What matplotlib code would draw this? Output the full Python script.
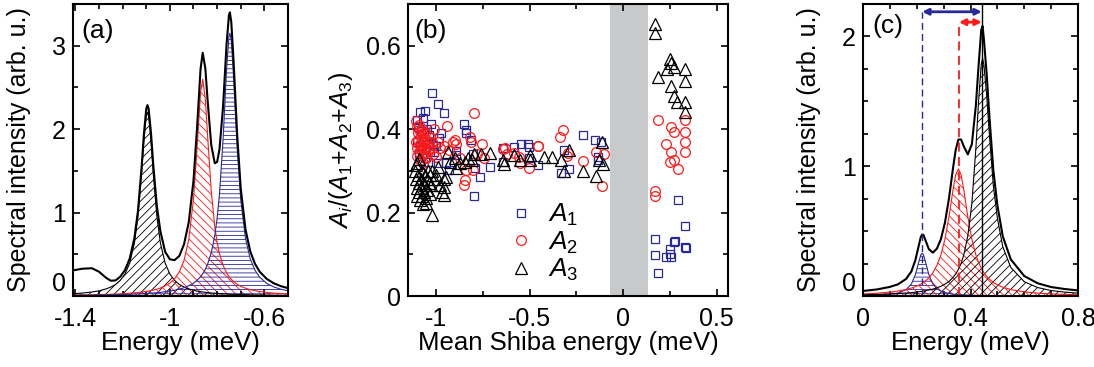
import numpy as np
import matplotlib
matplotlib.use("Agg")
import matplotlib.pyplot as plt
from matplotlib.ticker import MultipleLocator, FuncFormatter

plt.rcParams['font.family'] = ['Liberation Sans', 'DejaVu Sans']
plt.rcParams['mathtext.fontset'] = 'custom'
plt.rcParams['mathtext.rm'] = 'Liberation Sans'
plt.rcParams['mathtext.it'] = 'Liberation Sans:italic'
plt.rcParams['axes.unicode_minus'] = False
plt.rcParams['hatch.linewidth'] = 0.6

BLUE = '#28289a'
RED = '#ff1a1a'

# ---- panel (a): spectrum at negative energies ----
energy_a = [-1.41, -1.37, -1.33, -1.30, -1.27, -1.25, -1.23, -1.21, -1.19, -1.17,
            -1.15, -1.135, -1.12, -1.11, -1.10, -1.095, -1.09, -1.08, -1.07, -1.055,
            -1.04, -1.02, -1.0, -0.98, -0.96, -0.94, -0.92, -0.90, -0.885, -0.87,
            -0.861, -0.85, -0.84, -0.825, -0.81, -0.80, -0.79, -0.775, -0.76, -0.75,
            -0.746, -0.74, -0.73, -0.715, -0.70, -0.68, -0.66, -0.64, -0.62, -0.59,
            -0.56, -0.53, -0.50]
total_a = [0.307, 0.327, 0.333, 0.291, 0.218, 0.183, 0.187, 0.231, 0.311, 0.448,
           0.696, 1.022, 1.530, 1.938, 2.242, 2.288, 2.247, 1.958, 1.563, 1.077,
           0.774, 0.53, 0.44, 0.43, 0.48, 0.62, 0.885, 1.383, 2.015, 2.724,
           2.915, 2.731, 2.335, 1.813, 1.591, 1.607, 1.759, 2.263, 3.019, 3.366,
           3.40, 3.282, 2.798, 1.925, 1.289, 0.80, 0.537, 0.387, 0.292, 0.205,
           0.152, 0.118, 0.094]
black_a = [0.027, 0.035, 0.048, 0.062, 0.085, 0.107, 0.138, 0.187, 0.263, 0.394,
           0.634, 0.955, 1.456, 1.859, 2.156, 2.2, 2.156, 1.859, 1.456, 0.955,
           0.634, 0.394, 0.263, 0.187, 0.138, 0.107, 0.085, 0.069, 0.059, 0.052,
           0.048, 0.044, 0.041, 0.036, 0.033, 0.031, 0.029, 0.026, 0.024, 0.022,
           0.022, 0.021, 0.020, 0.019, 0.017, 0.016, 0.014, 0.013, 0.012, 0.011,
           0.009, 0.008, 0.008]
red_a = [0.011, 0.012, 0.014, 0.016, 0.019, 0.021, 0.023, 0.026, 0.029, 0.033,
         0.038, 0.042, 0.047, 0.050, 0.055, 0.057, 0.059, 0.065, 0.071, 0.082,
         0.096, 0.120, 0.155, 0.207, 0.289, 0.427, 0.677, 1.16, 1.768, 2.44,
         2.6, 2.366, 1.91, 1.26, 0.833, 0.644, 0.508, 0.369, 0.279, 0.235,
         0.221, 0.201, 0.173, 0.141, 0.117, 0.094, 0.076, 0.064, 0.054, 0.043,
         0.035, 0.029, 0.024]
blue_a = [0.009, 0.010, 0.011, 0.013, 0.014, 0.015, 0.016, 0.018, 0.019, 0.021,
          0.024, 0.025, 0.027, 0.029, 0.031, 0.031, 0.032, 0.034, 0.036, 0.040,
          0.044, 0.051, 0.059, 0.069, 0.082, 0.099, 0.123, 0.154, 0.188, 0.232,
          0.267, 0.321, 0.384, 0.517, 0.725, 0.932, 1.222, 1.868, 2.716, 3.109,
          3.15, 3.06, 2.605, 1.765, 1.155, 0.69, 0.447, 0.31, 0.226, 0.151,
          0.108, 0.081, 0.062]

# ---- panel (b): relative weights vs mean Shiba energy ----
a1_x = [-1.022, -0.991, -0.959, -1.058, -1.085, -1.072, -1.103, -1.027, -1.095, -1.08,
        -1.065, -1.05, -1.04, -0.973, -0.982, -1.10, -1.088, -1.07, -1.055, -1.04,
        -1.03, -1.018, -1.009, -1.0, -1.045, -1.09, -1.06, -0.99,
        -0.85, -0.838, -0.838, -0.811, -0.895, -0.892, -0.931, -0.946, -0.80, -0.793,
        -0.766, -0.712, -0.796,
        -0.643, -0.582, -0.546, -0.508, -0.505, -0.456, -0.315, -0.292, -0.333, -0.216,
        -0.153, -0.117, -0.135, -0.135, -0.64, -0.505,
        0.292, 0.33, 0.171, 0.27, 0.279, 0.252, 0.328, 0.333, 0.171, 0.231,
        0.256, 0.186, 0.25]
a1_y = [0.486, 0.46, 0.438, 0.444, 0.44, 0.426, 0.422, 0.413, 0.405, 0.395,
        0.39, 0.40, 0.385, 0.39, 0.378, 0.37, 0.36, 0.372, 0.352, 0.365,
        0.345, 0.362, 0.346, 0.36, 0.322, 0.34, 0.33, 0.32,
        0.413, 0.398, 0.39, 0.374, 0.338, 0.348, 0.302, 0.32, 0.34, 0.306,
        0.286, 0.31, 0.24,
        0.354, 0.356, 0.365, 0.365, 0.358, 0.314, 0.349, 0.305, 0.294, 0.385,
        0.373, 0.37, 0.334, 0.327, 0.322, 0.33,
        0.23, 0.168, 0.136, 0.13, 0.133, 0.112, 0.118, 0.114, 0.098, 0.094,
        0.094, 0.054, 0.10]

a2_x = [-1.105, -1.10, -1.095, -1.09, -1.085, -1.08, -1.075, -1.07, -1.065, -1.06,
        -1.055, -1.05, -1.108, -1.10, -1.095, -1.09, -1.085, -1.08, -1.075, -1.07,
        -1.065, -1.06, -1.055, -1.045, -1.04, -1.035, -1.03, -1.1, -1.085, -1.07,
        -1.02, -1.015, -1.009, -0.99, -0.98, -1.0, -1.054,
        -0.796, -0.941, -0.901, -0.895, -0.91, -0.82, -0.811, -0.757, -0.838, -0.847,
        -0.85, -0.802, -0.96, -0.93, -0.87, -0.78, -0.745,
        -0.643, -0.456, -0.505, -0.55, -0.585, -0.324, -0.337, -0.297, -0.216, -0.144,
        -0.103, -0.113, -0.30, -0.631, -0.559, -0.454, -0.62,
        0.186, 0.256, 0.274, 0.328, 0.328, 0.231, 0.256, 0.328, 0.328, 0.252,
        0.27, 0.294, 0.171, 0.171]
a2_y = [0.42, 0.405, 0.39, 0.41, 0.395, 0.38, 0.40, 0.385, 0.37, 0.39,
        0.375, 0.36, 0.37, 0.355, 0.375, 0.345, 0.365, 0.35, 0.36, 0.34,
        0.355, 0.345, 0.33, 0.35, 0.37, 0.38, 0.355, 0.335, 0.325, 0.32,
        0.37, 0.34, 0.40, 0.37, 0.355, 0.334, 0.334,
        0.438, 0.408, 0.374, 0.365, 0.37, 0.381, 0.37, 0.365, 0.302, 0.278,
        0.266, 0.302, 0.36, 0.35, 0.33, 0.34, 0.33,
        0.352, 0.36, 0.306, 0.32, 0.342, 0.397, 0.381, 0.342, 0.324, 0.346,
        0.341, 0.264, 0.335, 0.354, 0.334, 0.36, 0.34,
        0.422, 0.405, 0.392, 0.421, 0.392, 0.365, 0.346, 0.368, 0.345, 0.322,
        0.327, 0.305, 0.252, 0.24]

a3_x = [-1.11, -1.105, -1.10, -1.10, -1.095, -1.09, -1.09, -1.085, -1.08, -1.08,
        -1.075, -1.075, -1.07, -1.07, -1.065, -1.06, -1.06, -1.055, -1.05, -1.05,
        -1.045, -1.04, -1.035, -1.03, -1.025, -1.1, -1.09, -1.108, -1.02, -1.01,
        -1.0, -1.054, -1.022, -0.959, -0.97, -0.98, -0.99, -0.96,
        -0.937, -0.928, -0.946, -0.955, -0.892, -0.847, -0.83, -0.81, -0.796, -0.76,
        -0.712, -0.9, -0.87,
        -0.643, -0.636, -0.585, -0.55, -0.5, -0.497, -0.423, -0.378, -0.335, -0.319,
        -0.288, -0.216, -0.148, -0.113, -0.131, -0.108,
        0.171, 0.171, 0.252, 0.256, 0.234, 0.274, 0.328, 0.186, 0.328, 0.256,
        0.27, 0.288, 0.328, 0.332]
a3_y = [0.30, 0.28, 0.26, 0.24, 0.29, 0.27, 0.25, 0.23, 0.28, 0.26,
        0.30, 0.24, 0.27, 0.22, 0.25, 0.29, 0.265, 0.235, 0.28, 0.255,
        0.30, 0.27, 0.245, 0.29, 0.265, 0.32, 0.328, 0.315, 0.30, 0.28,
        0.29, 0.222, 0.194, 0.242, 0.25, 0.265, 0.31, 0.28,
        0.346, 0.322, 0.286, 0.262, 0.306, 0.322, 0.33, 0.325, 0.341, 0.341,
        0.344, 0.33, 0.32,
        0.327, 0.316, 0.338, 0.325, 0.338, 0.327, 0.334, 0.334, 0.327, 0.299,
        0.35, 0.299, 0.288, 0.37, 0.327, 0.316,
        0.653, 0.63, 0.568, 0.558, 0.544, 0.549, 0.544, 0.525, 0.516, 0.504,
        0.48, 0.466, 0.466, 0.442]

gap_band = [-0.07, 0.13]

# ---- panel (c): spectrum at positive energies ----
energy_c = [0, 0.05, 0.1, 0.13, 0.16, 0.18, 0.195, 0.205, 0.215, 0.22,
            0.225, 0.235, 0.245, 0.26, 0.275, 0.29, 0.305, 0.32, 0.335, 0.345,
            0.355, 0.365, 0.375, 0.39, 0.405, 0.42, 0.43, 0.44, 0.445, 0.45,
            0.46, 0.47, 0.485, 0.5, 0.52, 0.55, 0.6, 0.65, 0.7, 0.75, 0.8]
total_c = [0.039, 0.050, 0.070, 0.090, 0.131, 0.189, 0.277, 0.366, 0.454, 0.474,
           0.470, 0.416, 0.361, 0.334, 0.365, 0.439, 0.566, 0.753, 0.986, 1.127,
           1.206, 1.206, 1.153, 1.091, 1.169, 1.469, 1.773, 2.05, 2.08, 1.973,
           1.716, 1.393, 0.968, 0.699, 0.46, 0.282, 0.154, 0.098, 0.069, 0.054, 0.043]
blue_c = [0.004, 0.007, 0.014, 0.023, 0.048, 0.092, 0.165, 0.243, 0.317, 0.33,
          0.317, 0.243, 0.165, 0.092, 0.056, 0.037, 0.026, 0.02, 0.015, 0.013,
          0.011, 0.01, 0.009, 0.007, 0.006, 0.005, 0.004, 0.004, 0.004, 0.004,
          0.004, 0.003, 0.003, 0.003, 0.002, 0.002, 0.002, 0.001, 0.001, 0.001, 0.001]
red_c = [0.016, 0.021, 0.030, 0.038, 0.050, 0.061, 0.072, 0.081, 0.092, 0.098,
         0.105, 0.121, 0.140, 0.179, 0.236, 0.317, 0.439, 0.611, 0.818, 0.934,
         0.98, 0.934, 0.818, 0.611, 0.439, 0.317, 0.259, 0.214, 0.196, 0.179,
         0.152, 0.130, 0.105, 0.086, 0.068, 0.050, 0.032, 0.022, 0.016, 0.013, 0.010]
black_c = [0.009, 0.012, 0.016, 0.019, 0.023, 0.026, 0.030, 0.032, 0.035, 0.036,
           0.038, 0.042, 0.046, 0.053, 0.063, 0.075, 0.091, 0.112, 0.143, 0.170,
           0.205, 0.252, 0.316, 0.463, 0.714, 1.137, 1.50, 1.786, 1.83, 1.78,
           1.55, 1.25, 0.85, 0.60, 0.38, 0.22, 0.11, 0.065, 0.042, 0.030, 0.022]
peak_pos_c = [0.22, 0.357, 0.442]   # blue, red, black peak energies
arrow_level_c = [2.19, 2.11]        # heights of blue and red arrows


def pretty(v, pos):
    if abs(v) < 1e-9:
        return '0'
    return '%g' % round(v, 3)


def style_axes(ax):
    ax.tick_params(which='both', direction='in', top=True, right=True,
                   labelsize=18, width=1.2)
    ax.tick_params(axis='y', which='both', pad=5)
    ax.tick_params(axis='x', which='both', pad=8)
    ax.tick_params(which='major', length=5)
    ax.tick_params(which='minor', length=3.5)
    for s in ax.spines.values():
        s.set_linewidth(1.5)
    ax.xaxis.set_major_formatter(FuncFormatter(pretty))
    ax.yaxis.set_major_formatter(FuncFormatter(pretty))


fig = plt.figure(figsize=(10.94, 3.67), dpi=100)
bottom, height = 71 / 367, 292 / 367
ax_a = fig.add_axes([73 / 1094, bottom, 215 / 1094, height])
ax_b = fig.add_axes([408 / 1094, bottom, 320 / 1094, height])
ax_c = fig.add_axes([863 / 1094, bottom, 215 / 1094, height])

# (a)
for comp, col, hatch in [(black_a, 'k', '////'), (red_a, RED, '\\\\\\\\'), (blue_a, BLUE, '----')]:
    ax_a.fill_between(energy_a, 0, comp, facecolor='none', edgecolor=col, hatch=hatch, linewidth=0)
    ax_a.plot(energy_a, comp, color=col, lw=0.8)
ax_a.plot(energy_a, total_a, color='k', lw=1.5)
ax_a.set_xlim(-1.41, -0.5)
ax_a.set_ylim(0, 3.5)
ax_a.set_xticks([-1.4, -1.0, -0.6])
ax_a.xaxis.set_minor_locator(MultipleLocator(0.1))
ax_a.yaxis.set_major_locator(MultipleLocator(1))
ax_a.yaxis.set_minor_locator(MultipleLocator(0.5))
style_axes(ax_a)
ax_a.set_xlabel('Energy (meV)', fontsize=18.5, labelpad=0)
ax_a.set_ylabel('Spectral intensity (arb. u.)', fontsize=18, labelpad=15)
ax_a.text(0.04, 0.95, '(a)', transform=ax_a.transAxes, va='top', ha='left', fontsize=19)

# (b)
ax_b.axvspan(gap_band[0], gap_band[1], color='#c8c9cb', lw=0)
ax_b.plot(a1_x, a1_y, ls='none', marker='s', ms=6, mfc='none', mec=BLUE, mew=0.9, label='$A_1$')
ax_b.plot(a2_x, a2_y, ls='none', marker='o', ms=7, mfc='none', mec=RED, mew=0.9, label='$A_2$')
ax_b.plot(a3_x, a3_y, ls='none', marker='^', ms=8, mfc='none', mec='k', mew=0.9, label='$A_3$')
ax_b.set_xlim(-1.15, 0.56)
ax_b.set_ylim(0, 0.7)
ax_b.xaxis.set_major_locator(MultipleLocator(0.5))
ax_b.xaxis.set_minor_locator(MultipleLocator(0.25))
ax_b.yaxis.set_major_locator(MultipleLocator(0.2))
ax_b.yaxis.set_minor_locator(MultipleLocator(0.1))
style_axes(ax_b)
ax_b.set_xlabel('Mean Shiba energy (meV)', fontsize=18.5, labelpad=0)
ax_b.set_ylabel('$A_i/(A_1$+$A_2$+$A_3)$', fontsize=18, labelpad=8)
ax_b.text(0.02, 0.95, '(b)', transform=ax_b.transAxes, va='top', ha='left', fontsize=19)
ax_b.legend(loc='lower left', bbox_to_anchor=(0.255, -0.02), frameon=False, fontsize=19,
            handlelength=1.0, handletextpad=0.5, labelspacing=0.05, borderpad=0.2)

# (c)
for comp, col, hatch in [(blue_c, BLUE, '----'), (red_c, RED, '\\\\\\\\'), (black_c, 'k', '////')]:
    ax_c.fill_between(energy_c, 0, comp, facecolor='none', edgecolor=col, hatch=hatch, linewidth=0)
    ax_c.plot(energy_c, comp, color=col, lw=0.8)
ax_c.plot(energy_c, total_c, color='k', lw=1.5)
ax_c.vlines(peak_pos_c[0], 0, arrow_level_c[0], colors=BLUE, linestyles=(0, (5, 3)), lw=1.0)
ax_c.vlines(peak_pos_c[1], 0, arrow_level_c[1], colors=RED, linestyles=(0, (5, 3)), lw=1.3)
ax_c.axvline(peak_pos_c[2], color='k', lw=1.0)
ax_c.annotate('', xy=(peak_pos_c[2], arrow_level_c[0]), xytext=(peak_pos_c[0], arrow_level_c[0]),
              arrowprops=dict(arrowstyle='<|-|>', color=BLUE, lw=2, mutation_scale=9,
                              shrinkA=0, shrinkB=0))
ax_c.annotate('', xy=(peak_pos_c[2], arrow_level_c[1]), xytext=(peak_pos_c[1], arrow_level_c[1]),
              arrowprops=dict(arrowstyle='<|-|>', color=RED, lw=2, mutation_scale=9,
                              shrinkA=0, shrinkB=0))
ax_c.set_xlim(0, 0.8)
ax_c.set_ylim(0, 2.25)
ax_c.xaxis.set_major_locator(MultipleLocator(0.4))
ax_c.xaxis.set_minor_locator(MultipleLocator(0.1))
ax_c.yaxis.set_major_locator(MultipleLocator(1))
ax_c.yaxis.set_minor_locator(MultipleLocator(0.25))
style_axes(ax_c)
ax_c.set_xlabel('Energy (meV)', fontsize=18.5, labelpad=0)
ax_c.set_ylabel('Spectral intensity (arb. u.)', fontsize=18, labelpad=15)
ax_c.text(0.045, 0.965, '(c)', transform=ax_c.transAxes, va='top', ha='left', fontsize=19)

# the "0" on the intensity axes sits a little above the corner, as in the original
fig.canvas.draw()
for ax in (ax_a, ax_c):
    for tick in ax.yaxis.get_major_ticks():
        if abs(tick.get_loc()) < 1e-9:
            tick.label1.set_verticalalignment('bottom')

fig.savefig('out.png', dpi=100)
